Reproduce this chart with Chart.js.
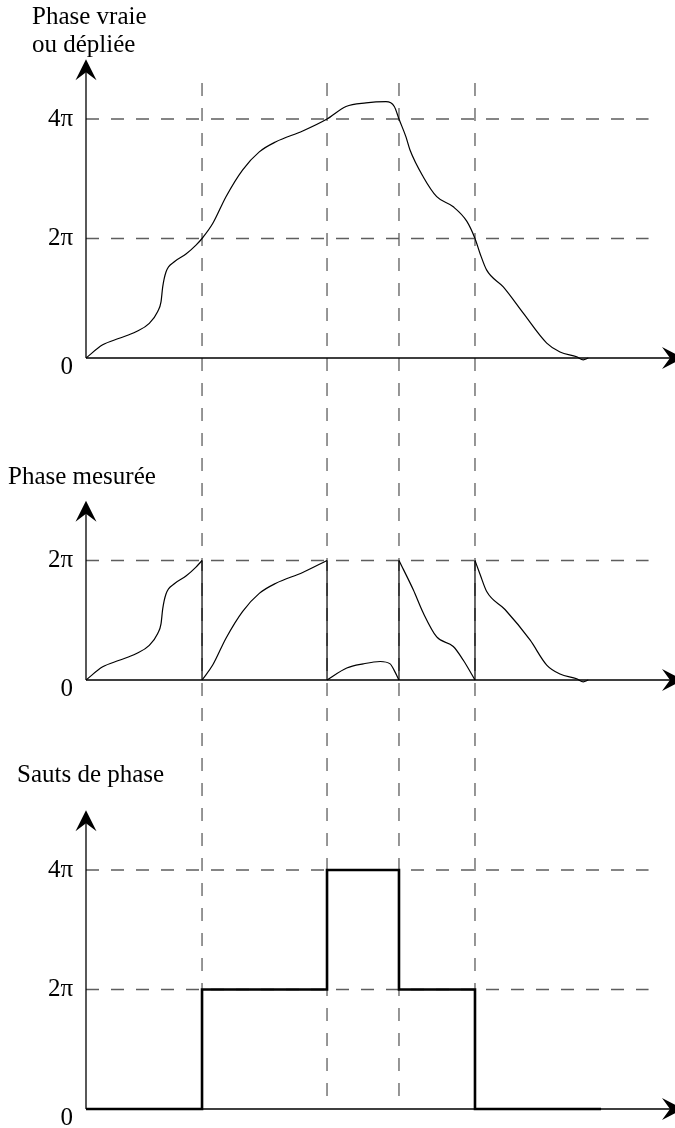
<!DOCTYPE html>
<html>
<head>
<meta charset="utf-8">
<script src="https://cdn.jsdelivr.net/npm/chart.js@4.4.1/dist/chart.umd.min.js"></script>
<style>
  html, body { margin: 0; padding: 0; background: #fff; }
  canvas { display: block; }
</style>
</head>
<body>
<canvas id="phase" width="675" height="1128"></canvas>
<script>
// abscisses des sauts de 2π (axe horizontal commun, unités arbitraires 0-100)
const sauts = [19.8, 41.13, 53.41, 66.38];

// phase vraie (dépliée), en multiples de π
const vraieX = [0, 2.85, 5.68, 8.53, 10.8, 12.24, 12.8, 13.09, 13.65, 15.07, 17.06, 18.77, 19.8,
  21.62, 23.89, 26.74, 29.57, 32.42, 36.98, 41.13, 44.37, 47.78, 51.19, 52.61, 53.41,
  54.6, 55.29, 57.56, 59.85, 62.68, 64.97, 66.38, 67.24, 68.38, 71.21, 74.62, 78.62,
  80.89, 83.74, 84.86, 85.72];
const vraieY = [0, 0.22, 0.33, 0.44, 0.58, 0.78, 0.94, 1.19, 1.44, 1.61, 1.74, 1.89, 2,
  2.25, 2.7, 3.15, 3.45, 3.62, 3.8, 4, 4.21, 4.27, 4.29, 4.21, 4,
  3.7, 3.48, 3.03, 2.7, 2.53, 2.29, 2, 1.75, 1.47, 1.19, 0.75, 0.25,
  0.1, 0.02, -0.03, 0];

// phase mesurée (repliée entre 0 et 2π), segments séparés par null
const mesureeX = [0, 2.85, 5.68, 8.53, 10.8, 12.24, 12.8, 13.09, 13.65, 15.07, 17.06, 18.77, 19.8, null,
  19.8, 21.62, 23.89, 26.74, 29.57, 32.42, 36.98, 41.13, null,
  41.13, 44.5, 47.3, 50.2, 51.9, 52.7, 53.41, null,
  53.41, 55.85, 57.56, 59.85, 62.68, 64.39, 66.38, null,
  66.38, 67.24, 68.38, 71.5, 75.77, 78.62, 80.89, 83.74, 84.86, 85.72];
const mesureeY = [0, 0.22, 0.33, 0.44, 0.58, 0.78, 0.94, 1.19, 1.44, 1.61, 1.74, 1.89, 2, null,
  0, 0.25, 0.7, 1.15, 1.45, 1.62, 1.8, 2, null,
  0, 0.2, 0.27, 0.31, 0.27, 0.14, 0, null,
  2, 1.51, 1.12, 0.72, 0.56, 0.33, 0, null,
  2, 1.77, 1.48, 1.18, 0.67, 0.25, 0.1, 0.02, -0.03, 0];

// sauts de phase (escalier), en multiples de π
const escalierX = [0, 19.8, 41.13, 53.41, 66.38, 87.9];
const escalierY = [0, 2, 4, 2, 0, 0];

// graduations
const ticksVraie = [0, 2, 4];
const ticksMesuree = [0, 2];
const ticksSauts = [0, 2, 4];

const H = 1128, UNIT = 59.75;
const FONT = '25px "Liberation Serif", "Times New Roman", serif';
const panels = [
  { id: 'y1', zero: 358, top: 5, ticks: ticksVraie, titre: ['Phase vraie', 'ou dépliée'], tx: 32, ty: [24, 52] },
  { id: 'y2', zero: 680, top: 3, ticks: ticksMesuree, titre: ['Phase mesurée'], tx: 8, ty: [484] },
  { id: 'y3', zero: 1109, top: 5, ticks: ticksSauts, titre: ['Sauts de phase'], tx: 17, ty: [782] }
];

function pts(xs, ys) {
  return xs.map((x, i) => ({ x: x, y: ys[i] }));
}

function segments(xs, ys) {
  const out = [];
  let cur = [];
  xs.forEach((x, i) => {
    if (x === null) { out.push(cur); cur = []; }
    else cur.push({ x: x, y: ys[i] });
  });
  out.push(cur);
  return out;
}

function fleche(ctx, x, y, dir) {
  // pointe en (x, y), dir = 'up' ou 'right'
  ctx.beginPath();
  if (dir === 'up') {
    ctx.moveTo(x, y);
    ctx.lineTo(x - 10.5, y + 21);
    ctx.lineTo(x, y + 13);
    ctx.lineTo(x + 10.5, y + 21);
  } else {
    ctx.moveTo(x, y);
    ctx.lineTo(x - 21, y - 11);
    ctx.lineTo(x - 13, y);
    ctx.lineTo(x - 21, y + 11);
  }
  ctx.closePath();
  ctx.fill();
}

const decor = {
  id: 'decor',
  beforeDatasetsDraw(chart) {
    const ctx = chart.ctx, x = chart.scales.x;
    ctx.save();
    ctx.strokeStyle = '#5e5e5e';
    ctx.lineWidth = 1.3;
    ctx.setLineDash([13, 12]);
    panels.forEach(p => {
      const y = chart.scales[p.id];
      p.ticks.filter(t => t > 0).forEach(t => {
        const py = y.getPixelForValue(t);
        ctx.beginPath();
        ctx.moveTo(x.getPixelForValue(0), py);
        ctx.lineTo(x.getPixelForValue(96), py);
        ctx.stroke();
      });
    });
    sauts.forEach(s => {
      const px = x.getPixelForValue(s);
      ctx.beginPath();
      ctx.moveTo(px, 83);
      ctx.lineTo(px, 1102);
      ctx.stroke();
    });
    ctx.restore();
  },
  afterDatasetsDraw(chart) {
    const ctx = chart.ctx, x = chart.scales.x;
    const x0 = x.getPixelForValue(0);
    ctx.save();
    ctx.strokeStyle = '#000';
    ctx.fillStyle = '#000';
    ctx.lineWidth = 1.3;
    panels.forEach(p => {
      const y = chart.scales[p.id];
      const y0 = y.getPixelForValue(0), yt = y.getPixelForValue(p.top);
      ctx.beginPath();
      ctx.moveTo(x0, y0);
      ctx.lineTo(x0, yt + 12);
      ctx.moveTo(x0, y0);
      ctx.lineTo(672, y0);
      ctx.stroke();
      fleche(ctx, x0, yt, 'up');
      fleche(ctx, 683, y0, 'right');

      ctx.font = FONT;
      ctx.textAlign = 'right';
      ctx.textBaseline = 'middle';
      p.ticks.forEach(t => {
        const py = y.getPixelForValue(t);
        ctx.fillText(t === 0 ? '0' : t + 'π', 73, t === 0 ? py + 9 : py);
      });

      ctx.textAlign = 'left';
      ctx.textBaseline = 'alphabetic';
      p.titre.forEach((txt, i) => ctx.fillText(txt, p.tx, p.ty[i]));
    });
    ctx.restore();
  }
};

const trait = { borderColor: '#000', borderWidth: 1.2, pointRadius: 0, fill: false, cubicInterpolationMode: 'monotone' };

const datasets = [
  Object.assign({ label: 'Phase vraie', yAxisID: 'y1', data: pts(vraieX, vraieY) }, trait)
];
segments(mesureeX, mesureeY).forEach((seg, i) => {
  datasets.push(Object.assign({ label: 'Phase mesurée ' + (i + 1), yAxisID: 'y2', data: seg }, trait));
});
datasets.push({
  label: 'Retombées', yAxisID: 'y2', borderColor: '#000', borderWidth: 1.2, pointRadius: 0,
  tension: 0, spanGaps: false,
  data: sauts.flatMap(s => [{ x: s, y: 2 }, { x: s, y: 0 }, { x: s, y: null }])
});
datasets.push({
  label: 'Sauts de phase', yAxisID: 'y3', borderColor: '#000', borderWidth: 2.6, pointRadius: 0,
  stepped: 'before', data: pts(escalierX, escalierY)
});

const scales = { x: { type: 'linear', display: false, min: 0, max: 100 } };
panels.forEach(p => {
  scales[p.id] = { type: 'linear', display: false, min: (p.zero - H) / UNIT, max: p.zero / UNIT };
});

new Chart(document.getElementById('phase'), {
  type: 'line',
  data: { datasets: datasets },
  options: {
    responsive: false,
    animation: false,
    layout: { padding: { left: 86, right: 3, top: 0, bottom: 0 } },
    scales: scales,
    plugins: { legend: { display: false }, tooltip: { enabled: false } }
  },
  plugins: [decor]
});
</script>
</body>
</html>
